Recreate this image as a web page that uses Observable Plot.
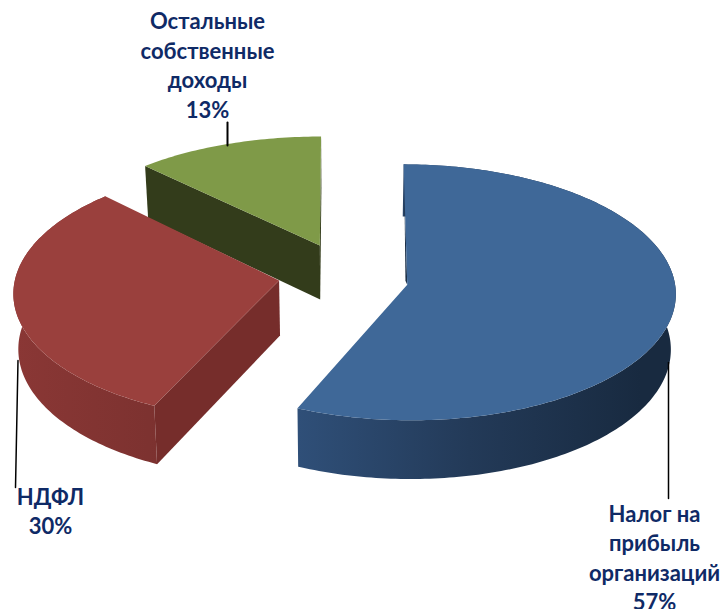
<!DOCTYPE html>
<html><head><meta charset="utf-8">
<script src="https://cdn.jsdelivr.net/npm/d3@7"></script>
<script src="https://cdn.jsdelivr.net/npm/@observablehq/plot@0.6"></script>
<style>html,body{margin:0;padding:0;background:#fff}svg{display:block}</style>
</head><body><div id="chart"></div>
<script>
const categories = ["Налог на\nприбыль\nорганизаций", "НДФЛ", "Остальные\nсобственные\nдоходы"];
const percents = [57, 30, 13];
const startAngles = [0, 205.6, 316];  // slice angles
const endAngles = [203.6, 316, 360];
const offsetU = [0.238, -0.241, -0.09];
const offsetV = [-0.053, -0.05, 0.26];
const apexV = [-0.053, -0.02, 0.26];
const tilt = [1, 1, 0.936];
const widen = [1, 0.989, 1];
const topColors = ["#3f6898", "#9a403d", "#7f9a48"];
const wallColors = ["#1c3048", "#762d2b", "#333c1b"];
const rimStops = [["#2f4f78", "#233a58", "#182a40"], ["#8a3735", "#7d3230", "#752d2b"], ["#333c1b","#333c1b","#333c1b"]];

// projection of the tilted pie
const X0 = 343, Y0 = 277.4, RX = 267, RY = 126.7, K = 0.06, DEPTH = 55, XSHRINK = 0.985;
const project = ([u, v], bottom = false) => {
  const s = 1 / (1 + K * v);
  const x = X0 + RX * u * s, y = Y0 - RY * v * s;
  return bottom ? [X0 + (x - X0) * XSHRINK, y + DEPTH * s] : [x, y];
};
const slices = percents.map((_, i) => {
  const a0 = startAngles[i], a1 = endAngles[i];
  const c = [offsetU[i], apexV[i]];
  const rimPt = a => [offsetU[i] + widen[i] * Math.sin(a * Math.PI / 180), offsetV[i] + tilt[i] * Math.cos(a * Math.PI / 180)];
  const arc = d3.range(a0, a1, 1).concat(a1).map(rimPt);
  return {i, a0, a1, c, arc};
});
const poly = (pts, fill) => Plot.line(pts.concat([pts[0]]), {x: d => d[0], y: d => d[1], fill, stroke: "none", curve: "linear"});
const topFace = s => poly([project(s.c), ...s.arc.map(p => project(p))], topColors[s.i]);
const rim = s => {
  const a = s.arc.map(p => project(p));
  const b = s.arc.map(p => project(p, true)).reverse();
  return poly([...a, ...b], `url(#rim${s.i})`);
};
const wall = (s, p) => poly([project(s.c), project(p), project(p, true), project(s.c, true)], wallColors[s.i]);

const defs = () => {
  const d = d3.create("svg:defs");
  const extents = [[298, 640], [15, 280], [146, 320]];
  rimStops.forEach((st, i) => {
    const g = d.append("linearGradient").attr("id", `rim${i}`).attr("gradientUnits", "userSpaceOnUse")
      .attr("x1", extents[i][0]).attr("x2", extents[i][1]).attr("y1", 0).attr("y2", 0);
    st.forEach((c, j) => g.append("stop").attr("offset", j / (st.length - 1)).attr("stop-color", c));
  });
  return d.node();
};

const [blue, red, green] = slices;
const apex = project(blue.c);
const blueTop = project(blue.arc[0]);
const sliverStart = [apex[0] + (blueTop[0] - apex[0]) * 0.8, apex[1] + (blueTop[1] - apex[1]) * 0.8];

const labelText = (i) => `${categories[i]}\n${percents[i]}%`;
const labelStyle = {fontFamily: "Lato, 'Open Sans', sans-serif", fontWeight: 700, fontSize: 22, fill: "#0f2a66", lineHeight: 1.345, textAnchor: "middle", lineAnchor: "top"};
const labelAt = [[654, 500], [50, 483], [207, 7.5]];
const leaders = [
  [[668, 362], [668, 498]],
  [[17.5, 360], [15, 487]],
  [[227, 122], [227, 145]]
];

const plot = Plot.plot({
  width: 725, height: 609, margin: 0,
  x: {domain: [0, 725], range: [0, 725], axis: null},
  y: {domain: [0, 609], range: [0, 609], axis: null},
  style: {background: "#fff"},
  marks: [
    defs,
    wall(green, green.arc[green.arc.length - 1]),
    wall(green, green.arc[0]),
    topFace(green),
    Plot.line(leaders[2], {x: d => d[0], y: d => d[1], stroke: "#000", strokeWidth: 2}),
    rim(red),
    wall(red, red.arc[0]),
    topFace(red),
    Plot.line(leaders[1], {x: d => d[0], y: d => d[1], stroke: "#000", strokeWidth: 1.5}),
    rim(blue),
    poly([apex, sliverStart, [apex[0] - 1.8, apex[1] - 4]], wallColors[0]),
    topFace(blue),
    Plot.line(leaders[0], {x: d => d[0], y: d => d[1], stroke: "#000", strokeWidth: 1.5}),
    ...percents.map((_, i) => Plot.text([labelText(i)], {x: () => labelAt[i][0], y: () => labelAt[i][1], text: d => d, ...labelStyle}))
  ]
});
document.getElementById("chart").append(plot);
</script></body></html>
